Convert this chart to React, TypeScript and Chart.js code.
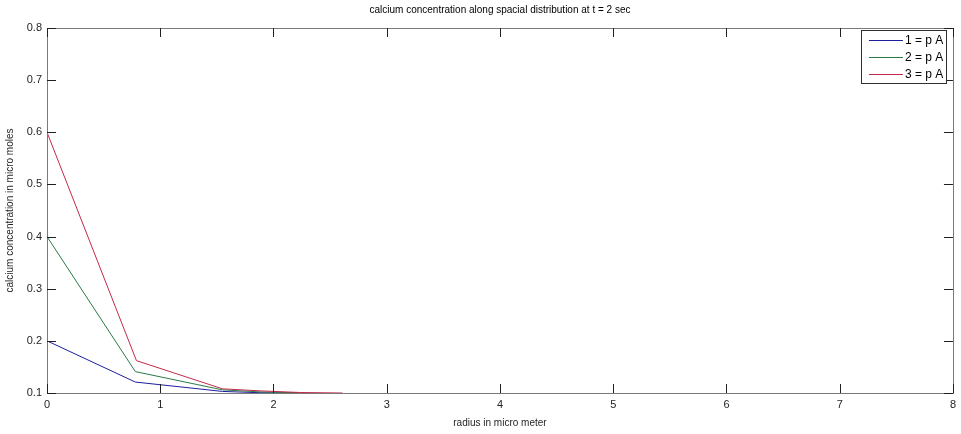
import React, { useEffect, useRef } from "react";
import { Chart, registerables } from "chart.js";

Chart.register(...registerables);

const chartTitle = "calcium concentration along spacial distribution at t = 2 sec";
const xTitle = "radius in micro meter";
const yTitle = "calcium concentration in micro moles";

const seriesLabels = ["1 = p A", "2 = p A", "3 = p A"];
const seriesColors = ["#1e1e9e", "#2a7a46", "#c22a4a"];

const xBlue = [0, 0.78, 1.55, 1.89, 2.23];
const yBlue = [0.2, 0.121, 0.103, 0.1005, 0.1];
const xGreen = [0, 0.78, 1.55, 1.89, 2.23];
const yGreen = [0.4, 0.141, 0.106, 0.102, 0.1005];
const xRed = [0, 0.79, 1.55, 1.89, 2.23, 2.61];
const yRed = [0.6, 0.162, 0.108, 0.104, 0.101, 0.1];

const xTicks = [0, 1, 2, 3, 4, 5, 6, 7, 8];
const yTicks = [0.1, 0.2, 0.3, 0.4, 0.5, 0.6, 0.7, 0.8];

const FONT = "'Liberation Sans', Arial, sans-serif";

const toPoints = (xs: number[], ys: number[]) => xs.map((x, i) => ({ x, y: ys[i] }));

const framePlugin = {
  id: "matlabFrame",
  afterDatasetsDraw(chart: any) {
    const { ctx, chartArea } = chart;
    const { left, right, top, bottom } = chartArea;
    const xs = chart.scales.x;
    const ys = chart.scales.y;
    ctx.save();
    // box
    ctx.strokeStyle = "#7a7a7a";
    ctx.lineWidth = 1;
    ctx.strokeRect(Math.round(left) + 0.5, Math.round(top) + 0.5, Math.round(right - left), Math.round(bottom - top));
    // inward ticks
    ctx.strokeStyle = "#202020";
    ctx.beginPath();
    const tl = 9;
    xTicks.forEach((v) => {
      const px = Math.round(xs.getPixelForValue(v)) + 0.5;
      ctx.moveTo(px, bottom);
      ctx.lineTo(px, bottom - tl);
      ctx.moveTo(px, top);
      ctx.lineTo(px, top + tl);
    });
    yTicks.forEach((v) => {
      const py = Math.round(ys.getPixelForValue(v)) + 0.5;
      ctx.moveTo(left, py);
      ctx.lineTo(left + tl, py);
      ctx.moveTo(right, py);
      ctx.lineTo(right - tl, py);
    });
    ctx.stroke();

    // title
    ctx.fillStyle = "#000";
    ctx.font = `10px ${FONT}`;
    ctx.textAlign = "center";
    ctx.textBaseline = "middle";
    ctx.fillText(chartTitle, (left + right) / 2, 10);

    // legend
    const bx = right - 92;
    const by = top + 2;
    const bw = 85;
    const bh = 53;
    ctx.fillStyle = "#fff";
    ctx.fillRect(bx, by, bw, bh);
    ctx.strokeStyle = "#303030";
    ctx.strokeRect(Math.round(bx) + 0.5, Math.round(by) + 0.5, bw, bh);
    ctx.font = `12px ${FONT}`;
    ctx.textAlign = "left";
    chart.data.datasets.forEach((ds: any, i: number) => {
      const ry = Math.round(by + 10 + i * 17) + 0.5;
      ctx.strokeStyle = ds.borderColor;
      ctx.beginPath();
      ctx.moveTo(bx + 8, ry);
      ctx.lineTo(bx + 42, ry);
      ctx.stroke();
      ctx.fillStyle = "#000";
      ctx.fillText(ds.label, bx + 44, ry);
    });
    ctx.restore();
  },
};

export default function App() {
  const ref = useRef<HTMLCanvasElement>(null);
  useEffect(() => {
    document.body.style.margin = "0";
    const canvas = ref.current!;
    const xsList = [xBlue, xGreen, xRed];
    const ysList = [yBlue, yGreen, yRed];
    const chart = new Chart(canvas, {
      type: "scatter",
      data: {
        datasets: seriesLabels.map((label, i) => ({
          label,
          data: toPoints(xsList[i], ysList[i]),
          showLine: true,
          borderColor: seriesColors[i],
          backgroundColor: seriesColors[i],
          borderWidth: 1,
          pointRadius: 0,
          pointHoverRadius: 0,
          tension: 0,
          order: 3 - i,
        })),
      },
      options: {
        responsive: false,
        animation: false,
        devicePixelRatio: 1,
        layout: { padding: { top: 28, right: 6, left: 0, bottom: 0 } },
        plugins: {
          legend: { display: false },
          title: { display: false },
          tooltip: { enabled: false },
        },
        scales: {
          x: {
            type: "linear",
            min: 0,
            max: 8,
            afterBuildTicks: (s: any) => {
              s.ticks = xTicks.map((v) => ({ value: v }));
            },
            afterFit: (s: any) => {
              s.height = 41;
            },
            ticks: {
              padding: 5,
              color: "#262626",
              font: { size: 11, family: FONT },
              callback: (v: any) => String(v),
            },
            grid: { display: false, drawTicks: false, tickLength: 0 },
            border: { display: false },
            title: {
              display: true,
              text: xTitle,
              color: "#262626",
              font: { size: 10, family: FONT },
              padding: { top: 0, bottom: 5 },
            },
          },
          y: {
            type: "linear",
            min: 0.1,
            max: 0.8,
            afterBuildTicks: (s: any) => {
              s.ticks = yTicks.map((v) => ({ value: v }));
            },
            afterFit: (s: any) => {
              s.width = 47;
            },
            ticks: {
              padding: 5,
              color: "#262626",
              font: { size: 11, family: FONT },
              callback: (v: any) => Number(v).toFixed(1),
            },
            grid: { display: false, drawTicks: false, tickLength: 0 },
            border: { display: false },
            title: {
              display: true,
              text: yTitle,
              color: "#262626",
              font: { size: 10, family: FONT },
              padding: { top: 4, bottom: 0 },
            },
          },
        },
      },
      plugins: [framePlugin],
    });
    return () => chart.destroy();
  }, []);
  return (
    <div style={{ position: "absolute", left: 0, top: 0, width: 961, height: 434, background: "#fff" }}>
      <canvas ref={ref} width={961} height={434} />
    </div>
  );
}
